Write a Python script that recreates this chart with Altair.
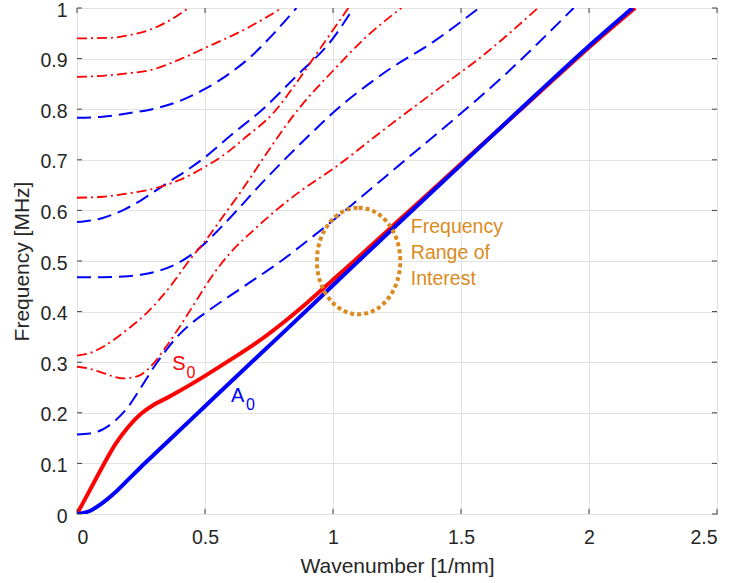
import altair as alt
import pandas as pd

# ---------------- data ----------------
X_TICKS = [0, 0.5, 1, 1.5, 2, 2.5]
Y_TICKS = [0, 0.1, 0.2, 0.3, 0.4, 0.5, 0.6, 0.7, 0.8, 0.9, 1.0]

A0_x = [0, 0.05, 0.1, 0.15, 0.2, 0.25, 0.3, 0.4, 0.5, 0.6, 0.8, 1.0, 1.2, 1.5, 1.8, 2.0, 2.17]
A0_y = [0, 0.006, 0.022, 0.043, 0.068, 0.093, 0.117, 0.165, 0.213, 0.261, 0.356, 0.452, 0.548, 0.69, 0.832, 0.925, 1.0]

S0_x = [0, 0.05, 0.1, 0.15, 0.2, 0.25, 0.3, 0.35, 0.4, 0.5, 0.6, 0.7, 0.8, 0.9, 1.0, 1.1, 1.2, 1.3, 1.5, 1.8, 2.0, 2.18]
S0_y = [0, 0.047, 0.094, 0.138, 0.172, 0.198, 0.216, 0.229, 0.243, 0.273, 0.305, 0.338, 0.376, 0.418, 0.463, 0.508, 0.554, 0.6, 0.692, 0.83, 0.922, 1.0]

A1_x = [0, 0.05, 0.1, 0.15, 0.2, 0.25, 0.3, 0.35, 0.4, 0.45, 0.5, 0.6, 0.7, 0.8, 0.9, 1.0, 1.1, 1.26, 1.5, 1.65, 1.8, 1.94]
A1_y = [0.157, 0.159, 0.167, 0.185, 0.212, 0.25, 0.29, 0.325, 0.355, 0.378, 0.397, 0.432, 0.466, 0.501, 0.54, 0.58, 0.622, 0.69, 0.792, 0.858, 0.93, 1.0]

A2_x = [0, 0.1, 0.2, 0.25, 0.3, 0.38, 0.44, 0.5, 0.55, 0.63, 0.7, 0.8, 0.9, 1.0, 1.2, 1.4, 1.57]
A2_y = [0.468, 0.468, 0.47, 0.473, 0.478, 0.492, 0.51, 0.535, 0.56, 0.603, 0.642, 0.695, 0.745, 0.793, 0.872, 0.936, 1.0]

A3_x = [0, 0.1, 0.19, 0.25, 0.34, 0.42, 0.5, 0.6, 0.73, 0.85, 1.0, 1.08]
A3_y = [0.577, 0.585, 0.603, 0.62, 0.65, 0.676, 0.705, 0.748, 0.802, 0.862, 0.94, 1.0]

A4_x = [0, 0.1, 0.2, 0.285, 0.4, 0.5, 0.6, 0.675, 0.76, 0.857]
A4_y = [0.783, 0.785, 0.792, 0.799, 0.816, 0.84, 0.872, 0.902, 0.945, 1.0]

S1_x = [0, 0.05, 0.1, 0.18, 0.24, 0.27, 0.3, 0.34, 0.4, 0.47, 0.53, 0.6, 0.69, 0.77, 0.87, 1.0, 1.2, 1.4, 1.6, 1.8]
S1_y = [0.291, 0.287, 0.279, 0.268, 0.273, 0.283, 0.298, 0.325, 0.369, 0.425, 0.472, 0.517, 0.561, 0.597, 0.637, 0.682, 0.76, 0.836, 0.912, 1.0]

S2_x = [0, 0.05, 0.1, 0.143, 0.2, 0.272, 0.363, 0.44, 0.506, 0.57, 0.636, 0.7, 0.753, 0.857, 1.0, 1.13, 1.267]
S2_y = [0.313, 0.318, 0.33, 0.344, 0.366, 0.397, 0.449, 0.502, 0.543, 0.588, 0.634, 0.682, 0.722, 0.795, 0.876, 0.943, 1.0]

S3_x = [0, 0.1, 0.207, 0.3, 0.4, 0.5, 0.58, 0.662, 0.766, 0.857, 0.95, 1.06]
S3_y = [0.625, 0.627, 0.634, 0.643, 0.66, 0.686, 0.712, 0.746, 0.792, 0.852, 0.92, 1.0]

S4_x = [0, 0.1, 0.2, 0.285, 0.4, 0.5, 0.6, 0.675, 0.8]
S4_y = [0.864, 0.866, 0.871, 0.877, 0.898, 0.921, 0.944, 0.963, 1.0]

S5_x = [0, 0.13, 0.2, 0.285, 0.36, 0.435]
S5_y = [0.94, 0.941, 0.946, 0.957, 0.975, 1.0]


def long_df(series):
    rows = []
    for name, xs_, ys_ in series:
        for i, (xv, yv) in enumerate(zip(xs_, ys_)):
            rows.append({"mode": name, "x": xv, "y": yv, "order": i})
    return pd.DataFrame(rows)


df_A = long_df([("A1", A1_x, A1_y), ("A2", A2_x, A2_y), ("A3", A3_x, A3_y), ("A4", A4_x, A4_y)])
df_S = long_df([("S1", S1_x, S1_y), ("S2", S2_x, S2_y), ("S3", S3_x, S3_y),
                ("S4", S4_x, S4_y), ("S5", S5_x, S5_y)])
df_S0 = long_df([("S0", S0_x, S0_y)])
df_A0 = long_df([("A0", A0_x, A0_y)])
df_xt = pd.DataFrame({"x": X_TICKS})
df_yt = pd.DataFrame({"y": Y_TICKS})
one = pd.DataFrame({"a": [0]})

# ---------------- styling ----------------
W, H = 640, 506
FONT = "Liberation Sans"
AX = "#404040"
TXT = "#262626"
BLUE = "#0000FF"
RED = "#FF0000"
ORANGE = "#DA8A1E"

xs = alt.Scale(domain=[0, 2.5], nice=False, zero=False)
ys = alt.Scale(domain=[0, 1], nice=False, zero=False)

x_axis = alt.Axis(values=X_TICKS, format="~g", grid=True, gridColor="#e2e2e2", gridWidth=1,
                  ticks=False, domain=False, labelPadding=14, labelFontSize=19.5,
                  labelFont=FONT, labelColor=TXT, title="Wavenumber [1/mm]",
                  titleFont=FONT, titleFontSize=21, titleFontWeight="normal",
                  titleColor=TXT, titlePadding=9)
y_axis = alt.Axis(values=Y_TICKS, format="~g", grid=True, gridColor="#e2e2e2", gridWidth=1,
                  ticks=False, domain=False, labelPadding=10, labelFontSize=19.5,
                  labelOffset=2, labelFont=FONT, labelColor=TXT, title="Frequency [MHz]",
                  titleFont=FONT, titleFontSize=21, titleFontWeight="normal",
                  titleColor=TXT, titlePadding=7)


def X(field="x"):
    return alt.X(f"{field}:Q", scale=xs, axis=x_axis, title="Wavenumber [1/mm]")


def Y(field="y"):
    return alt.Y(f"{field}:Q", scale=ys, axis=y_axis, title="Frequency [MHz]")


blue_dash = alt.Chart(df_A).mark_line(
    interpolate="monotone", clip=True, color=BLUE, strokeWidth=2, strokeDash=[14, 7]
).encode(x=X(), y=Y(), detail="mode:N", order="order:Q")

red_dashdot = alt.Chart(df_S).mark_line(
    interpolate="monotone", clip=True, color=RED, strokeWidth=1.8, strokeDash=[10, 4, 2, 4]
).encode(x=X(), y=Y(), detail="mode:N", order="order:Q")

s0_line = alt.Chart(df_S0).mark_line(
    interpolate="monotone", clip=True, color=RED, strokeWidth=4
).encode(x=X(), y=Y(), order="order:Q")

a0_line = alt.Chart(df_A0).mark_line(
    interpolate="monotone", clip=True, color=BLUE, strokeWidth=4
).encode(x=X(), y=Y(), order="order:Q")

# inward tick marks on all four sides (MATLAB box style)
tick_b = alt.Chart(df_xt).mark_rule(color=AX, strokeWidth=1).encode(
    x=X(), y=alt.value(H), y2=alt.value(H - 5))
tick_t = alt.Chart(df_xt).mark_rule(color=AX, strokeWidth=1).encode(
    x=X(), y=alt.value(0), y2=alt.value(5))
tick_l = alt.Chart(df_yt).mark_rule(color=AX, strokeWidth=1).encode(
    y=Y(), x=alt.value(0), x2=alt.value(5))
tick_r = alt.Chart(df_yt).mark_rule(color=AX, strokeWidth=1).encode(
    y=Y(), x=alt.value(W), x2=alt.value(W - 5))

# dotted ellipse marking the frequency range of interest
ELLIPSE = ("M 0 -1 C 0.4319 -1 0.782 -0.5523 0.782 0 C 0.782 0.5523 0.4319 1 0 1 "
           "C -0.4319 1 -0.782 0.5523 -0.782 0 C -0.782 -0.5523 -0.4319 -1 0 -1 Z")
ellipse = alt.Chart(one).mark_point(
    shape=ELLIPSE, size=11364, filled=False, stroke=ORANGE, strokeWidth=4,
    strokeDash=[4, 3], opacity=1
).encode(x=alt.datum(1.1), y=alt.datum(0.5))

note = alt.Chart(one).mark_text(
    text="Frequency\nRange of\nInterest", lineBreak="\n", lineHeight=26,
    align="left", baseline="alphabetic", font=FONT, fontSize=19.5, color=ORANGE
).encode(x=alt.datum(1.304), y=alt.datum(0.555))

s_lab = alt.Chart(one).mark_text(
    text="S", align="left", baseline="alphabetic", font=FONT, fontSize=20, color=RED
).encode(x=alt.datum(0.372), y=alt.datum(0.2846))
s_sub = alt.Chart(one).mark_text(
    text="0", align="left", baseline="alphabetic", font=FONT, fontSize=16, color=RED
).encode(x=alt.datum(0.428), y=alt.datum(0.269))
a_lab = alt.Chart(one).mark_text(
    text="A", align="left", baseline="alphabetic", font=FONT, fontSize=20, color=BLUE
).encode(x=alt.datum(0.602), y=alt.datum(0.222))
a_sub = alt.Chart(one).mark_text(
    text="0", align="left", baseline="alphabetic", font=FONT, fontSize=16, color=BLUE
).encode(x=alt.datum(0.66), y=alt.datum(0.2055))

chart = alt.layer(
    blue_dash, red_dashdot, s0_line, a0_line,
    tick_b, tick_t, tick_l, tick_r,
    ellipse, note, s_lab, s_sub, a_lab, a_sub,
).properties(
    width=W, height=H,
    autosize=alt.AutoSizeParams(type="none"),
    padding={"left": 77, "top": 8, "right": 17, "bottom": 69},
    background="white",
).configure_view(stroke=AX, strokeWidth=1)

chart.save("out.html", embed_options={"renderer": "svg", "actions": False})
